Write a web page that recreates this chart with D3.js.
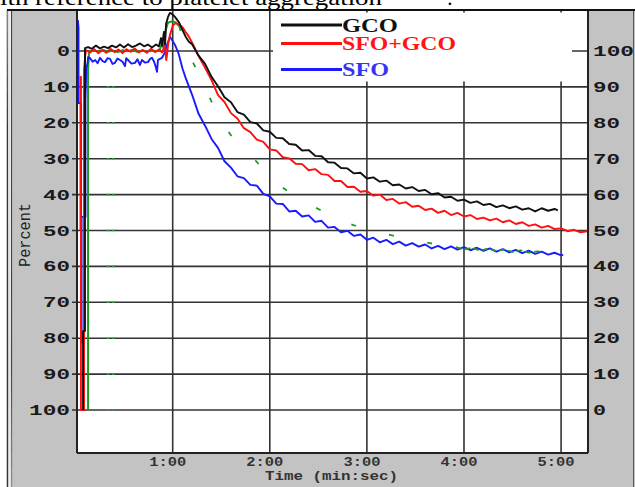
<!DOCTYPE html>
<html>
<head>
<meta charset="utf-8">
<script src="https://cdn.jsdelivr.net/npm/d3@7"></script>
<style>
  body { margin: 0; background: #fff; }
  svg { display: block; }
</style>
</head>
<body>
<svg id="chart" width="635" height="487"></svg>
<script>
// ---- data (time in seconds, value = percent on the left scale) ----
var leftTicks  = [0, 10, 20, 30, 40, 50, 60, 70, 80, 90, 100];
var rightTicks = [100, 90, 80, 70, 60, 50, 40, 30, 20, 10, 0];
var timeTicks  = [60, 120, 180, 240, 300];
var timeLabels = ["1:00", "2:00", "3:00", "4:00", "5:00"];
var seriesNames = ["GCO", "SFO+GCO", "SFO"];

var gcoTrace = [
  [4.6,100],[4.6,78],[5.8,78],[5.8,-0.8],[7.7,-1.1],[10.1,-0.6],[12.6,-1.5],[15.1,-0.7],[17.6,-1.2],
  [20.0,-0.8],[22.5,-1.5],[25.0,-1.0],[27.4,-1.8],[29.9,-1.0],[32.4,-1.9],[34.9,-1.1],[37.3,-1.5],
  [39.8,-2.1],[42.3,-1.3],[44.7,-1.8],[47.2,-1.0],[49.7,-1.8],[51.5,-1.3],[52.8,-3.6],[53.4,-1.4],
  [54.6,-5.3],[55.3,-1.9],[55.9,-7.5],[57.1,-9.5],[58.3,-10.6],[59.6,-10.3],[61.4,-9.5],
  [64,-7.9],[66,-5.9],[68,-4.0],[70,-2.6],[72,-1.9],[76,1.3],[80,3.6],[84,7.2],[88,9.8],[92,12.9],
  [96,14.3],[100,17.0],[104,17.7],[108,19.8],[112,20.2],[116,22.1],[120,22.5],[124,24.2],[128,24.3],
  [132,25.9],[136,26.1],[140,27.7],[144,27.6],[148,29.2],[152,29.3],[156,31.0],[160,31.1],[164,32.6],
  [168,32.7],[172,34.1],[176,33.9],[180,35.5],[184,35.2],[188,36.4],[192,36.1],[196,37.4],[200,37.2],
  [204,38.3],[208,37.9],[212,39.0],[216,38.7],[220,39.9],[224,39.6],[228,40.8],[232,40.6],[236,41.7],
  [240,41.4],[244,42.3],[248,41.9],[252,42.9],[256,42.6],[260,43.5],[264,43.0],[268,43.8],[272,43.3],
  [276,44.2],[280,43.8],[284,44.7],[288,43.8],[292,44.5],[296,44.0],[298,44.4]
];

var sfoGcoTrace = [
  [3.0,49.9],[3.0,7.2],[3.3,7.2],[3.3,100],[5.2,100],[5.2,5.3],[6.0,1.0],[6.6,-0.2],[9,0.4],[11.5,-0.5],
  [14,0.6],[16.5,-0.3],[19,0.5],[21.5,-0.6],[24,0.3],[26.5,-0.4],[29,0.6],[31.5,-0.5],[34,0.2],
  [36.5,-0.7],[39,0.4],[41.5,-0.3],[44,0.5],[46.5,-0.6],[49,0.3],[51.5,-0.4],[53.5,0.4],[55.3,-1.7],
  [56.0,2.5],[56.5,1.1],[57.2,-2.0],[58.3,-4.5],[60.2,-7.2],[62.0,-7.8],[64.5,-7.2],[66.4,-6.4],
  [68,-5.3],[70,-4.0],[72,-2.3],[76,1.4],[80,4.7],[84,8.1],[88,12.3],[92,14.2],[96,17.3],[100,18.8],
  [104,21.5],[108,22.6],[112,24.7],[116,25.3],[120,27.4],[124,27.7],[128,29.6],[132,29.9],[136,31.4],
  [140,31.5],[144,33.2],[148,32.9],[152,34.3],[156,34.5],[160,36.2],[164,36.2],[168,37.9],[172,37.8],
  [176,39.2],[180,39.0],[184,40.3],[188,40.0],[192,41.5],[196,41.2],[200,42.5],[204,42.1],[208,43.4],
  [212,43.1],[216,44.3],[220,43.9],[224,45.1],[228,44.5],[232,45.7],[236,45.1],[240,46.1],[244,45.7],
  [248,46.8],[252,46.4],[256,47.2],[260,46.7],[264,47.7],[268,47.2],[272,48.2],[276,47.7],[280,48.7],
  [284,48.3],[288,49.2],[292,48.7],[296,49.6],[300,49.4],[304,50.2],[308,49.8],[312,50.5],[316,50.2]
];

var sfoTrace = [
  [1.4,-8.6],[1.8,-6.5],[1.8,14.5],[3.4,14.5],[3.4,81.3],[3.7,81.3],[3.7,46.2],[6.1,46.2],[6.1,13.6],
  [6.6,5.0],[7.4,3.3],[7.7,1.7],[8.9,2.0],[10.5,3.0],[12.1,2.5],[13.6,3.4],[15.1,1.9],[16.6,2.8],
  [18.2,3.1],[19.7,2.0],[21.3,2.2],[22.8,3.6],[24.3,3.3],[25.9,2.1],[27.4,2.5],[29,3.0],[30.5,4.2],
  [31.3,2.0],[32.4,2.5],[34.5,3.5],[36.7,3.3],[38.2,2.3],[39.8,3.9],[41.0,2.5],[42.8,3.2],[44.7,3.1],
  [46.0,2.2],[47.2,1.9],[48.5,3.0],[49.6,4.5],[50.3,5.8],[50.9,2.5],[52.1,2.2],[53.4,1.9],[55.3,0.3],
  [56.5,-1.7],[58.3,-3.9],[59.6,-3.1],[61.4,-1.7],[63.3,0.3],
  [64,1.3],[66,4.8],[68,7.5],[72,12.2],[76,17.5],[80,20.8],[84,24.5],[88,27.0],[92,30.7],[96,32.5],
  [100,34.9],[104,35.4],[108,37.3],[112,37.5],[116,39.8],[120,40.5],[124,42.5],[128,42.6],[132,44.7],
  [136,44.5],[140,46.1],[144,45.8],[148,47.6],[152,47.3],[156,49.2],[160,49.0],[164,50.5],[168,50.1],
  [172,51.5],[176,51.1],[180,52.6],[184,52.0],[188,53.3],[192,52.6],[196,53.8],[200,53.1],[204,54.2],
  [208,53.5],[212,54.5],[216,53.9],[220,55.0],[224,54.3],[228,55.2],[232,54.4],[236,55.3],[240,54.6],
  [244,55.5],[248,54.8],[252,55.7],[256,55.0],[260,55.9],[264,55.2],[268,56.1],[272,55.4],[276,56.3],
  [280,55.6],[284,56.5],[288,55.9],[292,56.7],[296,56.2],[300,56.9],[301.3,56.8]
];

// green reference trace: solid start, sparse dashed fall, solid tail
var greenRise = [
  [7.7,100],[7.7,5.3],[8.3,0.3],[11,-0.2],[14,0.1],[17,-0.3],[20,0.2],[23,-0.1],[26,0.3],[29,-0.2],
  [32,0.1],[35,-0.3],[38,0.2],[41,-0.1],[44,0.2],[47,-0.2],[50,0.1],[52,-0.3],[53.5,-2.5],[54.5,-0.5],
  [55.5,-5.5],[57,-7.8],[58.3,-8.1],[60,-8.3],[62,-7.9],[64,-6.9]
];
var greenFall = [
  [64,-6.9],[66.4,-3.5],[69.5,0.3],[75,5.5],[80,10.3],[85.5,15.5],[91,20.1],[96,23.5],[101,26],
  [106,28.4],[111,30.4],[119,34.5],[126,37.5],[134,39.8],[142,42.2],[150,44],[158,45.9],[165,47.5],
  [175,49.0],[185,50.1],[195,51.3],[205,52.3],[220,53.6],[235,54.9]
];
var greenTail = [
  [235,54.6],[240,55.3],[245,54.8],[250,55.6],[255,55.0],[260,55.7],[265,55.3],[270,56.0],[275,55.5],
  [280,56.2],[285,55.8],[289,56.0]
];
var greenMarks = [10, 20, 30, 40, 50, 60, 70, 80, 90, 100];

// ---- layout ----
var svg = d3.select("#chart");
var plotL = 77, plotR = 588, plotT = 10, plotB = 453;

var x  = d3.scaleLinear().domain([0, 317]).range([75.6, 588.6]);
var y  = d3.scaleLinear().domain([0, 100]).range([51, 410]);
var yR = d3.scaleLinear().domain([100, 0]).range([51, 410]);

// cropped caption line above the figure
svg.append("text")
    .attr("x", 0).attr("y", 5)
    .attr("font-family", "Liberation Serif").attr("font-size", 21)
    .attr("textLength", 382).attr("lengthAdjust", "spacingAndGlyphs")
    .attr("fill", "#000")
    .text("ith reference to platelet aggregation");
svg.append("text")
    .attr("x", 447).attr("y", 5)
    .attr("font-family", "Liberation Serif").attr("font-size", 21)
    .text(":");

// grey instrument panel + white plot area
svg.append("rect").attr("x", 12).attr("y", 10).attr("width", 623).attr("height", 477).attr("fill", "#c3c3c3");
svg.append("rect").attr("x", plotL).attr("y", plotT).attr("width", plotR - plotL).attr("height", plotB - plotT).attr("fill", "#fff");

svg.append("line").attr("x1", 7.5).attr("x2", 7.5).attr("y1", 10).attr("y2", 487).attr("stroke", "#333").attr("stroke-width", 1.5);
svg.append("line").attr("x1", 11.5).attr("x2", 11.5).attr("y1", 10).attr("y2", 487).attr("stroke", "#444").attr("stroke-width", 1.2);
svg.append("line").attr("x1", 8.5).attr("x2", 10.5).attr("y1", 10).attr("y2", 487).attr("stroke", "#e0e0e0").attr("stroke-width", 2);
svg.append("line").attr("x1", 633.5).attr("x2", 633.5).attr("y1", 10).attr("y2", 487).attr("stroke", "#555").attr("stroke-width", 1);

// grid
svg.append("g").selectAll("line")
    .data(leftTicks)
    .join("line")
    .attr("x1", plotL - 5).attr("x2", plotR)
    .attr("y1", function(d){ return y(d); }).attr("y2", function(d){ return y(d); })
    .attr("stroke", "#333").attr("stroke-width", 1.6);

svg.append("g").selectAll("line")
    .data(timeTicks)
    .join("line")
    .attr("x1", function(d){ return x(d); }).attr("x2", function(d){ return x(d); })
    .attr("y1", plotT).attr("y2", plotB)
    .attr("stroke", "#333").attr("stroke-width", 1.6);

// white legend box hides the grid behind it
svg.append("rect").attr("x", 273).attr("y", 12.5).attr("width", 299).attr("height", 69).attr("fill", "#fff");

// traces
svg.append("clipPath").attr("id", "plotClip")
  .append("rect").attr("x", plotL).attr("y", plotT).attr("width", plotR - plotL).attr("height", plotB - plotT);

var traceLine = d3.line()
    .x(function(d){ return x(d[0]); })
    .y(function(d){ return y(d[1]); });

var traces = svg.append("g").attr("clip-path", "url(#plotClip)").attr("fill", "none")
    .attr("stroke-linejoin", "round");

traces.append("path").attr("d", traceLine(greenRise)).attr("stroke", "#1e9a1e").attr("stroke-width", 2);
traces.append("path").attr("d", traceLine(greenFall)).attr("stroke", "#1e9a1e").attr("stroke-width", 1.8)
    .attr("stroke-dasharray", "5,34");
traces.append("g").selectAll("line")
    .data(greenMarks)
    .join("line")
    .attr("x1", x(19.5)).attr("x2", x(24))
    .attr("y1", function(d){ return y(d); }).attr("y2", function(d){ return y(d); })
    .attr("stroke", "#2aa82a").attr("stroke-width", 1.6).attr("stroke-dasharray", "2,3");
traces.append("path").attr("d", traceLine(sfoTrace)).attr("stroke", "#1a1aff").attr("stroke-width", 1.9);
traces.append("path").attr("d", traceLine(greenTail)).attr("stroke", "#1e9a1e").attr("stroke-width", 1.6)
    .attr("stroke-dasharray", "6,3");
traces.append("path").attr("d", traceLine(sfoGcoTrace)).attr("stroke", "#ff1010").attr("stroke-width", 1.9);
traces.append("path").attr("d", traceLine(gcoTrace)).attr("stroke", "#111").attr("stroke-width", 1.9);

// plot frame
svg.append("line").attr("x1", plotL).attr("x2", plotL).attr("y1", plotT).attr("y2", plotB).attr("stroke", "#222").attr("stroke-width", 2);
svg.append("line").attr("x1", plotL).attr("x2", plotR).attr("y1", plotB).attr("y2", plotB).attr("stroke", "#222").attr("stroke-width", 2);
svg.append("line").attr("x1", plotR).attr("x2", plotR).attr("y1", plotT).attr("y2", plotB).attr("stroke", "#222").attr("stroke-width", 2);
svg.append("line").attr("x1", 7).attr("x2", 635).attr("y1", 10).attr("y2", 10).attr("stroke", "#111").attr("stroke-width", 2);

// axis labels
function labelWidth(s) { return 14 * s.length - 1; }

svg.append("g").selectAll("text")
    .data(leftTicks)
    .join("text")
    .attr("x", function(d){ return 70 - labelWidth(String(d)); })
    .attr("y", function(d){ return y(d) + 5; })
    .attr("textLength", function(d){ return labelWidth(String(d)); })
    .attr("lengthAdjust", "spacingAndGlyphs")
    .attr("font-family", "Liberation Mono").attr("font-weight", "bold").attr("font-size", 15)
    .attr("fill", "#1a1a1a")
    .text(function(d){ return d; });

svg.append("g").selectAll("text")
    .data(rightTicks)
    .join("text")
    .attr("x", 593)
    .attr("y", function(d){ return yR(d) + 5; })
    .attr("textLength", function(d){ return labelWidth(String(d)); })
    .attr("lengthAdjust", "spacingAndGlyphs")
    .attr("font-family", "Liberation Mono").attr("font-weight", "bold").attr("font-size", 15)
    .attr("fill", "#1a1a1a")
    .text(function(d){ return d; });

svg.append("g").selectAll("text")
    .data(timeTicks)
    .join("text")
    .attr("x", function(d){ return x(d) - 5 - 18.5; })
    .attr("y", 466)
    .attr("textLength", 37).attr("lengthAdjust", "spacingAndGlyphs")
    .attr("font-family", "Liberation Mono").attr("font-weight", "bold").attr("font-size", 12)
    .attr("fill", "#333")
    .text(function(d, i){ return timeLabels[i]; });

svg.append("text")
    .attr("x", 265).attr("y", 480)
    .attr("textLength", 133).attr("lengthAdjust", "spacingAndGlyphs")
    .attr("font-family", "Liberation Mono").attr("font-weight", "bold").attr("font-size", 12)
    .attr("fill", "#333")
    .text("Time (min:sec)");

svg.append("text")
    .attr("transform", "translate(29.5,235) rotate(-90)")
    .attr("x", -32).attr("y", 0)
    .attr("textLength", 64).attr("lengthAdjust", "spacingAndGlyphs")
    .attr("font-family", "Liberation Mono").attr("font-size", 17)
    .attr("fill", "#222")
    .text("Percent");

// legend
var legendY      = [25, 43.5, 69.5];
var legendColors = ["#111", "#ff1010", "#1a1aff"];
var legendText   = ["#111", "#ff1515", "#3535f0"];
var legendWidths = [56, 114, 47];

var legend = svg.append("g");
legend.selectAll("line")
    .data(seriesNames)
    .join("line")
    .attr("x1", 281).attr("x2", 342)
    .attr("y1", function(d, i){ return legendY[i]; }).attr("y2", function(d, i){ return legendY[i]; })
    .attr("stroke", function(d, i){ return legendColors[i]; })
    .attr("stroke-width", 3);
legend.selectAll("text")
    .data(seriesNames)
    .join("text")
    .attr("x", 342)
    .attr("y", function(d, i){ return legendY[i] + 6.5; })
    .attr("textLength", function(d, i){ return legendWidths[i]; })
    .attr("lengthAdjust", "spacingAndGlyphs")
    .attr("font-family", "Liberation Serif").attr("font-weight", "bold").attr("font-size", 18)
    .attr("fill", function(d, i){ return legendText[i]; })
    .text(function(d){ return d; });
</script>
</body>
</html>
